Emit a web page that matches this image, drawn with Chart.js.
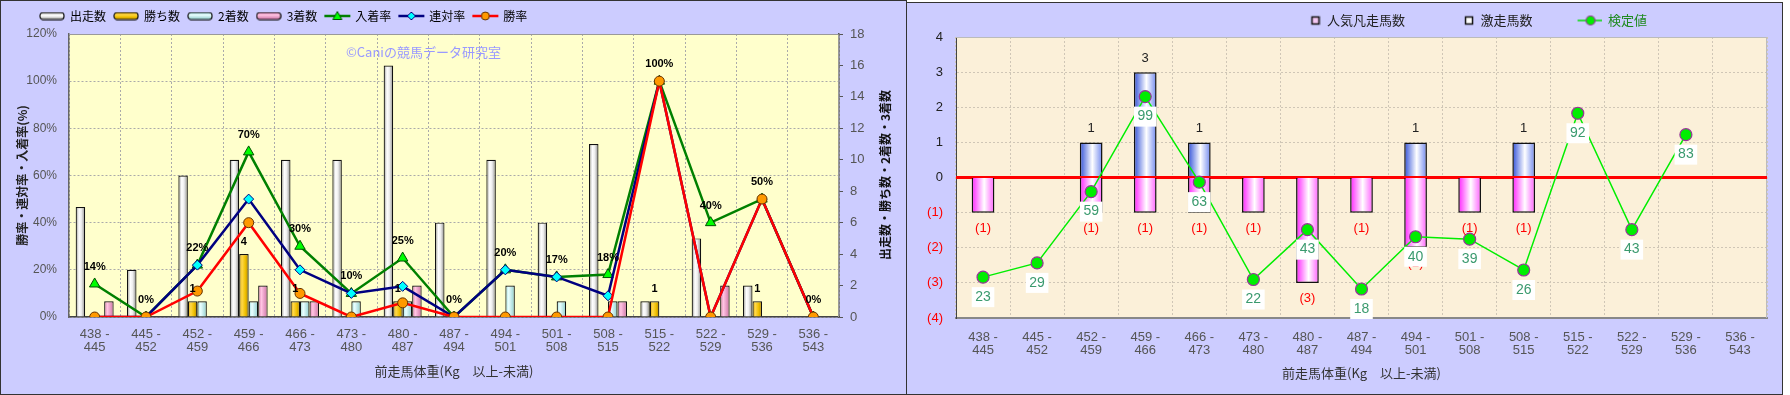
<!DOCTYPE html>
<html><head><meta charset="utf-8">
<script src="https://cdn.jsdelivr.net/npm/chart.js@4"></script>
<style>
html,body{margin:0;padding:0;background:#fff;width:1790px;height:395px;overflow:hidden}
#p1{position:absolute;left:0;top:0;width:907px;height:395px;box-sizing:border-box;border:1px solid #333;background:#ccccff}
#p2{position:absolute;left:906px;top:2px;width:877px;height:393px;box-sizing:border-box;border:1px solid #333;background:#ccccff}
#c1{position:absolute;left:0;top:0}
#c2{position:absolute;left:907px;top:0}
</style></head><body>
<div id="p1"></div><div id="p2"></div>
<canvas id="c1" width="906" height="395"></canvas>
<canvas id="c2" width="883" height="395"></canvas>
<script>
// ---------- data ----------
const weightBins = ['438 - 445','445 - 452','452 - 459','459 - 466','466 - 473','473 - 480','480 - 487','487 - 494','494 - 501','501 - 508','508 - 515','515 - 522','522 - 529','529 - 536','536 - 543'];
// left chart (counts)
const runs    = [7,3,9,10,10,10,16,6,10,6,11,1,5,2,0];
const wins    = [0,0,1,4,1,0,1,0,0,0,0,1,0,1,0];
const seconds = [0,0,1,1,1,1,1,0,2,1,1,0,0,0,0];
const thirds  = [1,0,0,2,1,0,2,0,0,0,1,0,2,0,0];
// left chart (rates, %)
const showRate  = [14,0,22,70,30,10,25,0,20,17,18,100,40,50,0];
const placeRate = [0,0,22,50,20,10,13,0,20,17,9,100,0,50,0];
const winRate   = [0,0,11,40,10,0,6,0,0,0,0,100,0,50,0];
// right chart
const flopCount  = [1,0,1,1,1,1,3,1,2,1,1,0,0,0,0];
const surgeCount = [0,0,1,3,1,0,0,0,1,0,1,0,0,0,0];
const testValue  = [23,29,59,99,63,22,43,18,40,39,26,92,43,83,null];
// tick labels
const leftPctTicks = [0,20,40,60,80,100,120];
const rightYTicks = [-4,-3,-2,-1,0,1,2,3,4];

const xLabels = weightBins.map(s => { const p = s.split(' - '); return [p[0] + ' -', p[1]]; });
const FF = "'Liberation Sans','Noto Sans CJK JP',sans-serif";
const JP = "'Noto Sans CJK JP',sans-serif";
Chart.defaults.font.family = FF;

// ---------- helpers ----------
function mk(w,h){const c=document.createElement('canvas');c.width=w;c.height=h;return c;}
function grad(ctx,x0,y0,x1,y1,stops){const g=ctx.createLinearGradient(x0,y0,x1,y1);stops.forEach(s=>g.addColorStop(s[0],s[1]));return g;}
function rr(g,x,y,w,h,r){g.beginPath();g.moveTo(x+r,y);g.lineTo(x+w-r,y);g.arcTo(x+w,y,x+w,y+r,r);g.lineTo(x+w,y+h-r);g.arcTo(x+w,y+h,x+w-r,y+h,r);g.lineTo(x+r,y+h);g.arcTo(x,y+h,x,y+h-r,r);g.lineTo(x,y+r);g.arcTo(x,y,x+r,y,r);g.closePath();}

const STOPS = {
  runs:   [[0,'#959595'],[0.35,'#ffffff'],[0.6,'#eeeeee'],[1,'#8a8a8a']],
  wins:   [[0,'#d8a000'],[0.3,'#ffd84a'],[0.65,'#f0c000'],[1,'#b08400']],
  seconds:[[0,'#a0e0e0'],[0.35,'#eaffff'],[1,'#8ccccc']],
  thirds: [[0,'#dd80b4'],[0.35,'#ffc4e2'],[1,'#cc70a4']],
  surge:  [[0,'#3050d8'],[0.55,'#ffffff'],[1,'#7088ee']],
  flop:   [[0,'#ff20ff'],[0.55,'#ffffff'],[1,'#ff60ff']]
};
function barLegendImg(stops){
  const c=mk(26,9),g=c.getContext('2d');
  rr(g,1,1,24,7,3);g.fillStyle=grad(g,0,1,0,8,stops);g.fill();g.lineWidth=1.2;g.strokeStyle='#111';g.stroke();return c;
}
function lineLegendImg(color,marker){
  const c=mk(28,14),g=c.getContext('2d');
  g.strokeStyle=color;g.lineWidth=2.5;g.beginPath();g.moveTo(1,7);g.lineTo(27,7);g.stroke();
  g.lineWidth=1;g.beginPath();
  if(marker==='tri'){g.moveTo(14,2.5);g.lineTo(18.5,10.5);g.lineTo(9.5,10.5);g.closePath();g.fillStyle='#00ff00';g.strokeStyle='#005000';}
  else if(marker==='dia'){g.moveTo(14,3);g.lineTo(18,7);g.lineTo(14,11);g.lineTo(10,7);g.closePath();g.fillStyle='#00ffff';g.strokeStyle='#000080';}
  else {g.arc(14,7,4,0,Math.PI*2);g.fillStyle='#ff9900';g.strokeStyle='#663300';}
  g.fill();g.stroke();return c;
}
function squareLegendImg(fill){
  const c=mk(61,14),g=c.getContext('2d');
  g.fillStyle=fill;g.fillRect(52.5,3.5,7,7);g.lineWidth=1.5;g.strokeStyle='#111';g.strokeRect(52.5,3.5,7,7);return c;
}
function testLegendImg(){
  const c=mk(61,14),g=c.getContext('2d');
  g.strokeStyle='#00dd00';g.lineWidth=1.5;g.beginPath();g.moveTo(37,7);g.lineTo(61,7);g.stroke();
  g.beginPath();g.arc(50,7,4.5,0,Math.PI*2);g.fillStyle='#00ee00';g.fill();g.lineWidth=1.2;g.strokeStyle='#993399';g.stroke();return c;
}

const barGradPlugin = {
  id:'barGrad',
  beforeDatasetsDraw(chart){
    const map = chart.$gradMap || {};
    chart.data.datasets.forEach((ds,i)=>{
      const st = map[i]; if(!st) return;
      chart.getDatasetMeta(i).data.forEach(el=>{
        const w=el.width, x0=el.x-w/2;
        const o = Object.assign({}, el.options);
        o.backgroundColor = grad(chart.ctx,x0,0,x0+w,0,st);
        el.options = o;
      });
    });
  }
};
const areaPlugin = {
  id:'area',
  beforeDraw(chart,args,opts){
    const a=chart.chartArea,c=chart.ctx;c.save();c.fillStyle=opts.bg;c.fillRect(a.left,a.top,a.right-a.left,a.bottom-a.top);c.restore();
  },
  beforeDatasetsDraw(chart,args,opts){
    const a=chart.chartArea,c=chart.ctx;c.save();c.strokeStyle=opts.edge;c.lineWidth=1;
    c.beginPath();c.moveTo(a.left,a.top+0.5);c.lineTo(a.right-0.5,a.top+0.5);c.lineTo(a.right-0.5,a.bottom);c.stroke();c.restore();
  }
};
function legendShift(dx,dy){return {id:'legendShift',afterLayout(chart){const l=chart.legend;if(l){l.left+=dx;l.top+=dy;}}};}

// ---------- left chart ----------
const leftImgs = [barLegendImg(STOPS.runs),barLegendImg(STOPS.wins),barLegendImg(STOPS.seconds),barLegendImg(STOPS.thirds),lineLegendImg('#008000','tri'),lineLegendImg('#000080','dia'),lineLegendImg('#ff0000','cir')];
const leftLabelsPlugin = {
  id:'leftLabels',
  beforeDatasetsDraw(chart){
    const c=chart.ctx;c.save();c.font="13px "+JP;c.fillStyle='#9999ff';c.textAlign='left';c.textBaseline='middle';
    c.fillText('©Caniの競馬データ研究室',346,52);c.restore();
  },
  afterDatasetsDraw(chart){
    const c=chart.ctx;c.save();c.textAlign='center';c.textBaseline='middle';c.fillStyle='#000';c.font="bold 11px "+FF;
    chart.getDatasetMeta(1).data.forEach((el,i)=>{ if(wins[i]>0) c.fillText(String(wins[i]),el.x,el.y-12); });
    chart.getDatasetMeta(4).data.forEach((el,i)=>{ c.fillText(showRate[i]+'%',el.x,el.y-17); });
    // right axis title
    c.translate(885,175);c.rotate(-Math.PI/2);c.font="bold 12px "+JP;c.fillStyle='#111';
    c.fillText('出走数・勝ち数・2着数・3着数',0,0);
    c.restore();
  }
};
const ch1 = new Chart(document.getElementById('c1'),{
  type:'bar',
  data:{labels:xLabels,datasets:[
    {label:'出走数',data:runs,yAxisID:'y1',order:3,backgroundColor:'#eee',borderColor:'#111',borderWidth:1.2},
    {label:'勝ち数',data:wins,yAxisID:'y1',order:3,backgroundColor:'#f0c000',borderColor:'#111',borderWidth:1.2},
    {label:'2着数',data:seconds,yAxisID:'y1',order:3,backgroundColor:'#c0f0f0',borderColor:'#111',borderWidth:1.2},
    {label:'3着数',data:thirds,yAxisID:'y1',order:3,backgroundColor:'#f0a0c8',borderColor:'#111',borderWidth:1.2},
    {type:'line',label:'入着率',data:showRate,yAxisID:'y',order:2,borderColor:'#008000',borderWidth:2.5,pointStyle:'triangle',pointRadius:6,pointBackgroundColor:'#00ff00',pointBorderColor:'#005000',pointBorderWidth:1,tension:0},
    {type:'line',label:'連対率',data:placeRate,yAxisID:'y',order:1,borderColor:'#000080',borderWidth:2.5,pointStyle:'rectRot',pointRadius:5,pointBackgroundColor:'#00ffff',pointBorderColor:'#000080',pointBorderWidth:1,tension:0},
    {type:'line',label:'勝率',data:winRate,yAxisID:'y',order:0,borderColor:'#ff0000',borderWidth:2.5,pointStyle:'circle',pointRadius:5,pointBackgroundColor:'#ff9900',pointBorderColor:'#663300',pointBorderWidth:1,tension:0}
  ]},
  options:{
    responsive:false,animation:false,events:[],
    layout:{padding:{left:0,right:0,top:4,bottom:0}},
    datasets:{bar:{categoryPercentage:0.74,barPercentage:1}},
    plugins:{
      tooltip:{enabled:false},
      area:{bg:'#ffffcc',edge:'#999999'},
      legend:{position:'top',align:'start',labels:{usePointStyle:true,pointStyleWidth:24,padding:8,color:'#222',font:{size:12,family:JP},
        generateLabels(chart){return chart.data.datasets.map((ds,i)=>({text:ds.label,pointStyle:leftImgs[i],datasetIndex:i,hidden:false,fillStyle:'rgba(0,0,0,0)',strokeStyle:'rgba(0,0,0,0)',lineWidth:0}));}}}
    },
    scales:{
      x:{grid:{color:'#aaaaaa',drawTicks:false},border:{color:'#444',width:1.5,dash:[2,2]},
        ticks:{color:'#555',font:{size:13,lineHeight:1.0},padding:11,maxRotation:0,autoSkip:false},
        title:{display:true,text:'前走馬体重(Kg　以上-未満)',color:'#333',font:{size:13,family:JP},padding:{top:0,bottom:16}},
        afterFit(s){s.height=78;}},
      y:{position:'left',min:0,max:120,afterBuildTicks(s){s.ticks=leftPctTicks.map(v=>({value:v}));},
        ticks:{callback:v=>v+'%',color:'#555',font:{size:12},padding:12},
        grid:{color:'#aaaaaa',drawTicks:false},border:{color:'#666',width:1.5,dash:[2,2]},
        title:{display:true,text:'勝率・連対率・入着率(%)',color:'#222',font:{size:12,weight:'bold',family:JP},padding:{top:15,bottom:0}},
        afterFit(s){s.width=69;}},
      y1:{position:'right',min:0,max:18,ticks:{stepSize:2,color:'#555',font:{size:13},padding:7},
        grid:{drawOnChartArea:false,drawTicks:true,tickLength:4,color:'#555'},border:{color:'#555',width:1.5},
        afterFit(s){s.width=67;}}
    }
  },
  plugins:[areaPlugin,barGradPlugin,leftLabelsPlugin,legendShift(32,-2)]
});
ch1.$gradMap = {0:STOPS.runs,1:STOPS.wins,2:STOPS.seconds,3:STOPS.thirds};
ch1.draw();

// ---------- right chart ----------
const rightImgs = [squareLegendImg('#f4c8f4'),squareLegendImg('#ffffff'),testLegendImg()];
const rightLabelsPlugin = {
  id:'rightLabels',
  afterDatasetDraw(chart,args){
    if(args.index!==1) return;
    const a=chart.chartArea,y=chart.scales.y.getPixelForValue(0),c=chart.ctx;
    c.save();c.strokeStyle='#ff0000';c.lineWidth=3;c.beginPath();c.moveTo(a.left,y);c.lineTo(a.right,y);c.stroke();c.restore();
  },
  afterDatasetsDraw(chart){
    const c=chart.ctx;c.save();c.textAlign='center';c.textBaseline='middle';c.font="13px "+FF;
    c.fillStyle='#222';
    chart.getDatasetMeta(1).data.forEach((el,i)=>{ if(surgeCount[i]>0) c.fillText(String(surgeCount[i]),el.x,el.y-14); });
    c.fillStyle='#ff0000';
    chart.getDatasetMeta(0).data.forEach((el,i)=>{ if(flopCount[i]>0) c.fillText('('+flopCount[i]+')',el.x,el.y+16); });
    c.font="14px "+FF;
    chart.getDatasetMeta(2).data.forEach((el,i)=>{
      const v=testValue[i]; if(v==null) return;
      const t=String(v),w=c.measureText(t).width+7,cy=el.y+20;
      c.fillStyle='#ffffff';c.fillRect(el.x-w/2,cy-10,w,20);
      c.fillStyle='#3a9a6e';c.fillText(t,el.x,cy);
    });
    c.restore();
  }
};
const ch2 = new Chart(document.getElementById('c2'),{
  type:'bar',
  data:{labels:xLabels,datasets:[
    {label:'人気凡走馬数',data:flopCount.map(v=>-v),yAxisID:'y',order:1,backgroundColor:'#ff80ff',borderColor:'#111',borderWidth:1.5},
    {label:'激走馬数',data:surgeCount,yAxisID:'y',order:1,backgroundColor:'#8090f0',borderColor:'#111',borderWidth:1.5},
    {type:'line',label:'検定値',data:testValue,yAxisID:'y2',order:0,borderColor:'#00ee00',borderWidth:1.5,pointStyle:'circle',pointRadius:6,pointBackgroundColor:'#00ee00',pointBorderColor:'#993399',pointBorderWidth:1.2,tension:0,spanGaps:false}
  ]},
  options:{
    responsive:false,animation:false,events:[],
    layout:{padding:{left:0,right:23,top:6,bottom:0}},
    datasets:{bar:{categoryPercentage:1,barPercentage:0.42}},
    plugins:{
      tooltip:{enabled:false},
      area:{bg:'#fbf0d9',edge:'#bbbbbb'},
      legend:{position:'top',align:'start',labels:{usePointStyle:true,pointStyleWidth:61,padding:8,color:'#222',font:{size:13,family:JP},
        generateLabels(chart){return chart.data.datasets.map((ds,i)=>({text:ds.label,pointStyle:rightImgs[i],datasetIndex:i,hidden:false,fillStyle:'rgba(0,0,0,0)',strokeStyle:'rgba(0,0,0,0)',lineWidth:0,fontColor:i===2?'#1f8a1f':'#222'}));}}}
    },
    scales:{
      x:{stacked:true,grid:{color:'#cfc6b6',drawTicks:false},border:{color:'#888',width:2,dash:[2,2]},
        ticks:{color:'#555',font:{size:13,lineHeight:1.0},padding:13,maxRotation:0,autoSkip:false},
        title:{display:true,text:'前走馬体重(Kg　以上-未満)',color:'#333',font:{size:13,family:JP},padding:{top:0,bottom:14.5}},
        afterFit(s){s.height=77;}},
      y:{stacked:true,position:'left',min:-4,max:4,afterBuildTicks(s){s.ticks=rightYTicks.map(v=>({value:v}));},
        ticks:{callback:v=>v<0?'('+(-v)+')':String(v),color:c=>c.tick&&c.tick.value<0?'#ff0000':'#222',font:{size:13},padding:13},
        grid:{color:'#cfc6b6',drawTicks:false},border:{color:'#444',width:1,dash:[2,2]},
        afterFit(s){s.width=49;}},
      y2:{display:false,min:5.8,max:124.1}
    }
  },
  plugins:[areaPlugin,barGradPlugin,rightLabelsPlugin,legendShift(344.5,0)]
});
ch2.$gradMap = {0:STOPS.flop,1:STOPS.surge};
ch2.draw();
</script>
</body></html>
